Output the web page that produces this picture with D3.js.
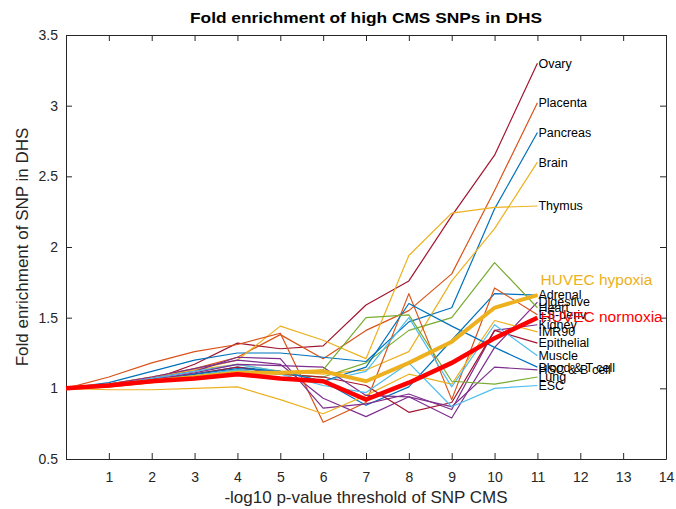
<!DOCTYPE html>
<html>
<head>
<meta charset="utf-8">
<script src="https://cdn.jsdelivr.net/npm/d3@7"></script>
<style>
    body { margin: 0; background: #fff; }
    svg { font-family: "Liberation Sans", Arial, Helvetica, sans-serif; }
</style>
</head>
<body>
<svg></svg>
<script>
// -log10 p thresholds (x values of every series)
const thresholds = [0, 1, 2, 3, 4, 5, 6, 7, 8, 9, 10, 11];

// fold enrichment per tissue
const ovary      = [1, 1.02, 1.06, 1.17, 1.32, 1.28, 1.30, 1.59, 1.76, 2.22, 2.65, 3.30];
const placenta   = [1, 1.03, 1.08, 1.14, 1.22, 1.38, 1.21, 1.41, 1.55, 1.81, 2.40, 3.02];
const pancreas   = [1, 1.04, 1.12, 1.20, 1.25, 1.25, 1.22, 1.19, 1.47, 1.57, 2.27, 2.81];
const brain      = [1, 1.03, 1.08, 1.13, 1.17, 1.12, 1.10, 1.13, 1.26, 1.76, 2.13, 2.60];
const thymus     = [1, 1.02, 1.07, 1.13, 1.20, 1.44, 1.34, 1.21, 1.94, 2.24, 2.28, 2.29];
const adrenal    = [1, 1.02, 1.06, 1.10, 1.15, 1.12, 1.05, 0.88, 1.01, 1.34, 1.67, 1.66];
const digestive  = [1, 1.03, 1.08, 1.14, 1.20, 1.17, 0.93, 0.80, 0.94, 0.79, 1.29, 1.61];
const heart      = [1, 1.02, 1.05, 1.09, 1.13, 1.10, 1.08, 1.18, 1.41, 1.50, 1.89, 1.57];
const esDeriv    = [1, 1.08, 1.18, 1.26, 1.31, 1.39, 0.76, 0.90, 1.67, 0.92, 1.71, 1.52];
const kidney     = [1, 1.02, 1.07, 1.12, 1.22, 1.21, 0.86, 0.89, 0.96, 0.85, 1.41, 1.45];
const imr90      = [1, 0.99, 0.99, 1.00, 1.01, 0.92, 0.82, 0.95, 1.10, 1.03, 1.48, 1.40];
const epithelial = [1, 1.02, 1.06, 1.10, 1.15, 1.10, 1.08, 1.02, 0.83, 0.90, 1.41, 1.32];
const muscle     = [1, 1.02, 1.07, 1.12, 1.17, 1.12, 1.05, 1.12, 1.50, 1.01, 1.45, 1.23];
const bloodT     = [1, 1.02, 1.06, 1.10, 1.14, 1.12, 1.05, 1.15, 1.60, 1.44, 1.29, 1.15];
const hscB       = [1, 1.02, 1.06, 1.11, 1.17, 1.16, 1.15, 0.95, 0.94, 0.87, 1.15, 1.13];
const lung       = [1, 1.01, 1.04, 1.08, 1.12, 1.10, 1.13, 1.50, 1.52, 1.05, 1.03, 1.08];
const esc        = [1, 1.02, 1.05, 1.09, 1.13, 1.10, 1.02, 0.97, 1.18, 0.87, 1.00, 1.02];
const huvecHypoxia  = [1, 1.02, 1.05, 1.08, 1.11, 1.11, 1.12, 1.05, 1.18, 1.33, 1.57, 1.66];
const huvecNormoxia = [1, 1.02, 1.05, 1.07, 1.10, 1.07, 1.05, 0.92, 1.04, 1.18, 1.355, 1.50];

const tissueNames = ["Ovary", "Placenta", "Pancreas", "Brain", "Thymus", "Adrenal", "Digestive",
    "Heart", "ES-deriv", "Kidney", "IMR90", "Epithelial", "Muscle", "Blood & T cell",
    "HSC & B cell", "Lung", "ESC"];
const tissueValues = [ovary, placenta, pancreas, brain, thymus, adrenal, digestive,
    heart, esDeriv, kidney, imr90, epithelial, muscle, bloodT, hscB, lung, esc];

// matlab default colour order
const blue = "#0072BD", orange = "#D95319", yellow = "#EDB120", purple = "#7E2F8E",
    green = "#77AC30", lightBlue = "#4DBEEE", darkRed = "#A2142F";
const tissueColors = [darkRed, orange, blue, yellow, yellow, blue, purple,
    green, orange, purple, yellow, darkRed, lightBlue, blue, purple, green, lightBlue];

const xTicks = [1, 2, 3, 4, 5, 6, 7, 8, 9, 10, 11, 12, 13, 14];
const yTicks = [0.5, 1, 1.5, 2, 2.5, 3, 3.5];

const svg = d3.select("svg");
const width = 676,
    height = 509,
    margin = { top: 35, right: 10, bottom: 50, left: 66 },
    axisColor = "#262626";

svg.attr("width", width).attr("height", height);

const xScale = d3.scaleLinear().domain([0, 14]).range([margin.left, width - margin.right]),
    yScale = d3.scaleLinear().domain([0.5, 3.5]).range([height - margin.bottom, margin.top]);

// box with inward ticks on all four sides
const xAxis = d3.axisBottom(xScale).tickValues(xTicks).tickSizeInner(-6).tickSizeOuter(0).tickPadding(13),
    xTop = d3.axisTop(xScale).tickValues(xTicks).tickSizeInner(-6).tickSizeOuter(0).tickFormat(""),
    yAxis = d3.axisLeft(yScale).tickValues(yTicks).tickSizeInner(-6).tickSizeOuter(0).tickPadding(8)
        .tickFormat(d3.format("")),
    yRight = d3.axisRight(yScale).tickValues(yTicks).tickSizeInner(-6).tickSizeOuter(0).tickFormat("");

svg.append("g").attr("transform", `translate(0, ${height - margin.bottom})`).call(xAxis);
svg.append("g").attr("transform", `translate(0, ${margin.top})`).call(xTop);
svg.append("g").attr("transform", `translate(${margin.left}, 0)`).call(yAxis);
svg.append("g").attr("transform", `translate(${width - margin.right}, 0)`).call(yRight);

svg.selectAll(".domain, .tick line").attr("stroke", axisColor).attr("stroke-width", 1);
svg.selectAll(".tick text").attr("fill", axisColor).style("font-size", "14px");

const line = d3.line()
    .x((d, i) => xScale(thresholds[i]))
    .y((d) => yScale(d));

const plot = svg.append("g");

plot.selectAll("path.tissue")
    .data(tissueValues)
    .enter()
    .append("path")
    .attr("class", "tissue")
    .attr("d", line)
    .attr("fill", "none")
    .attr("stroke", (d, i) => tissueColors[i])
    .attr("stroke-width", 1.2)
    .attr("stroke-linejoin", "round");

// the two HUVEC conditions are drawn thick on top
plot.append("path").attr("d", line(huvecHypoxia))
    .attr("fill", "none").attr("stroke", yellow).attr("stroke-width", 4);
plot.append("path").attr("d", line(huvecNormoxia))
    .attr("fill", "none").attr("stroke", "#FF0000").attr("stroke-width", 4.5);

// end labels
const last = thresholds.length - 1;
svg.selectAll("text.tissue-label")
    .data(tissueNames)
    .enter()
    .append("text")
    .attr("class", "tissue-label")
    .attr("x", xScale(thresholds[last]) + 1)
    .attr("y", (d, i) => yScale(tissueValues[i][last]))
    .attr("dy", "0.35em")
    .style("font-size", "12.5px")
    .attr("fill", "#000")
    .text((d) => d);

svg.append("text")
    .attr("x", xScale(thresholds[last]) + 3)
    .attr("y", yScale(huvecHypoxia[last] + 0.11))
    .attr("dy", "0.35em")
    .style("font-size", "15.5px")
    .attr("fill", yellow)
    .text("HUVEC hypoxia");

svg.append("text")
    .attr("x", xScale(thresholds[last]) + 3)
    .attr("y", yScale(huvecNormoxia[last] + 0.01))
    .attr("dy", "0.35em")
    .style("font-size", "15.5px")
    .attr("fill", "#FF0000")
    .text("HUVEC normoxia");

// title and axis labels
svg.append("text")
    .attr("x", (margin.left + width - margin.right) / 2)
    .attr("y", 23)
    .attr("text-anchor", "middle")
    .attr("textLength", 352)
    .attr("lengthAdjust", "spacingAndGlyphs")
    .style("font-size", "15px")
    .style("font-weight", "bold")
    .text("Fold enrichment of high CMS SNPs in DHS");

svg.append("text")
    .attr("x", (margin.left + width - margin.right) / 2)
    .attr("y", 503)
    .attr("text-anchor", "middle")
    .attr("fill", axisColor)
    .style("font-size", "17px")
    .text("-log10 p-value threshold of SNP CMS");

svg.append("text")
    .attr("transform", `translate(28, ${(margin.top + height - margin.bottom) / 2}) rotate(-90)`)
    .attr("text-anchor", "middle")
    .attr("fill", axisColor)
    .style("font-size", "17px")
    .text("Fold enrichment of SNP in DHS");
</script>
</body>
</html>
